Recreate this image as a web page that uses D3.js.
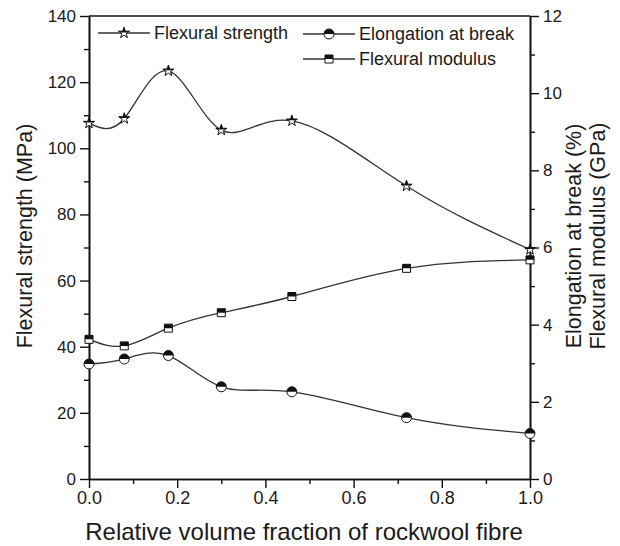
<!DOCTYPE html>
<html>
<head>
<meta charset="utf-8">
<script src="https://cdn.jsdelivr.net/npm/d3@7"></script>
<style>
  html, body { margin: 0; padding: 0; background: #fff; }
  svg { display: block; font-family: "Liberation Sans", Arial, sans-serif; }
</style>
</head>
<body>
<svg id="chart" width="620" height="546"></svg>
<script>
// Fibre content (relative volume fraction)
const fraction = [0, 0.08, 0.18, 0.30, 0.46, 0.72, 1.0];
// Flexural strength, MPa (left axis)
const flexStrength = [107.6, 109.0, 123.4, 105.5, 108.3, 88.6, 69.4];
// Elongation at break, % (right axis)
const elongation = [2.98, 3.11, 3.20, 2.39, 2.26, 1.59, 1.18];
// Flexural modulus, GPa (right axis)
const flexModulus = [3.62, 3.45, 3.91, 4.31, 4.73, 5.46, 5.68];

const xTicks = [0, 0.2, 0.4, 0.6, 0.8, 1.0];
const leftTicks = [0, 20, 40, 60, 80, 100, 120, 140];
const rightTicks = [0, 2, 4, 6, 8, 10, 12];

const svg = d3.select("#chart");
const L = 89, R = 530, T = 16, B = 479;

const x = d3.scaleLinear().domain([0, 1]).range([L, R]);
const yL = d3.scaleLinear().domain([0, 140]).range([B, T]);
const yR = d3.scaleLinear().domain([0, 12]).range([B, T]);

const ink = "#111";
const lineInk = "#333";
const textInk = "#1a1a1a";

// clip that keeps the upper half of any marker it is applied to
const defs = svg.append("defs");
defs.append("clipPath").attr("id", "upperHalf")
  .attr("clipPathUnits", "objectBoundingBox")
  .append("rect").attr("x", -0.1).attr("y", -0.1).attr("width", 1.2).attr("height", 0.6);

// axes
const fmt1 = d3.format(".1f");
const xAxis = d3.axisBottom(x).tickValues(xTicks).tickFormat(fmt1).tickSizeInner(9).tickSizeOuter(0).tickPadding(3);
const xMinor = d3.axisBottom(x).tickValues(d3.range(0.1, 1, 0.2)).tickFormat("").tickSizeInner(5).tickSizeOuter(0);
const lAxis = d3.axisLeft(yL).tickValues(leftTicks).tickSizeInner(9).tickSizeOuter(0).tickPadding(4);
const lMinor = d3.axisLeft(yL).tickValues(d3.range(10, 140, 20)).tickFormat("").tickSizeInner(5).tickSizeOuter(0);
const rAxis = d3.axisRight(yR).tickValues(rightTicks).tickSizeInner(9).tickSizeOuter(0).tickPadding(4);
const rMinor = d3.axisRight(yR).tickValues(d3.range(1, 12, 2)).tickFormat("").tickSizeInner(5).tickSizeOuter(0);

function styleAxis(size) {
  return g => {
    g.selectAll("path.domain").attr("stroke", ink).attr("stroke-width", 1.6);
    g.selectAll(".tick line").attr("stroke", ink).attr("stroke-width", 1.4);
    g.selectAll(".tick text").attr("fill", textInk).style("font-size", size + "px")
      .style("font-family", "'Liberation Sans', Arial, sans-serif");
  };
}

svg.append("g").attr("transform", `translate(0,${B})`).call(xAxis).call(styleAxis(18));
svg.append("g").attr("transform", `translate(0,${B})`).call(xMinor).call(styleAxis(18));
svg.append("g").attr("transform", `translate(${L},0)`).call(lAxis).call(styleAxis(17));
svg.append("g").attr("transform", `translate(${L},0)`).call(lMinor).call(styleAxis(17));
svg.append("g").attr("transform", `translate(${R},0)`).call(rAxis).call(styleAxis(17));
svg.append("g").attr("transform", `translate(${R},0)`).call(rMinor).call(styleAxis(17));

// top frame
svg.append("line").attr("x1", L).attr("x2", R).attr("y1", T).attr("y2", T)
  .attr("stroke", ink).attr("stroke-width", 1.6);

// axis titles
svg.append("text").attr("x", 304).attr("y", 540)
  .attr("text-anchor", "middle").style("font-size", "24px").attr("fill", textInk)
  .text("Relative volume fraction of rockwool fibre");
svg.append("text").attr("transform", `translate(24,236) rotate(-90)`).attr("dy", "0.35em")
  .attr("text-anchor", "middle").style("font-size", "21.5px").attr("fill", textInk)
  .text("Flexural strength (MPa)");
svg.append("text").attr("transform", `translate(573,236) rotate(-90)`).attr("dy", "0.35em")
  .attr("text-anchor", "middle").style("font-size", "21.5px").attr("fill", textInk)
  .text("Elongation at break (%)");
svg.append("text").attr("transform", `translate(597,236) rotate(-90)`).attr("dy", "0.35em")
  .attr("text-anchor", "middle").style("font-size", "21.5px").attr("fill", textInk)
  .text("Flexural modulus (GPa)");

// marker shapes
const shapes = {
  star: d3.symbol().type(d3.symbolStar).size(38)(),
  circle: d3.symbol().type(d3.symbolCircle).size(78)(),
  square: d3.symbol().type(d3.symbolSquare).size(64)()
};

function drawMarker(g, shape, cx, cy) {
  const m = g.append("g").attr("transform", `translate(${cx},${cy})`);
  m.append("path").attr("d", shapes[shape]).attr("fill", "#fff");
  m.append("path").attr("d", shapes[shape]).attr("fill", ink).attr("clip-path", "url(#upperHalf)");
  m.append("path").attr("d", shapes[shape]).attr("fill", "none").attr("stroke", ink).attr("stroke-width", 1);
}

const series = [
  { values: flexStrength, y: yL, shape: "star" },
  { values: elongation, y: yR, shape: "circle" },
  { values: flexModulus, y: yR, shape: "square" }
];

const plot = svg.append("g");
series.forEach(s => {
  const pts = fraction.map((f, i) => [f, s.values[i]]);
  const line = d3.line().x(d => x(d[0])).y(d => s.y(d[1])).curve(d3.curveNatural);
  plot.append("path").attr("d", line(pts)).attr("fill", "none")
    .attr("stroke", lineInk).attr("stroke-width", 1.3);
  pts.forEach(p => drawMarker(plot, s.shape, x(p[0]), s.y(p[1])));
});

// legend
const legendItems = [
  { label: "Flexural strength", shape: "star", x0: 98, y: 33 },
  { label: "Elongation at break", shape: "circle", x0: 303, y: 34 },
  { label: "Flexural modulus", shape: "square", x0: 303, y: 59 }
];
const lg = svg.append("g");
legendItems.forEach(it => {
  lg.append("line").attr("x1", it.x0).attr("x2", it.x0 + 52).attr("y1", it.y).attr("y2", it.y)
    .attr("stroke", lineInk).attr("stroke-width", 1.3);
  drawMarker(lg, it.shape, it.x0 + 26, it.y);
  lg.append("text").attr("x", it.x0 + 56).attr("y", it.y).attr("dy", "0.35em")
    .style("font-size", "18px").attr("fill", textInk).text(it.label);
});
</script>
</body>
</html>
